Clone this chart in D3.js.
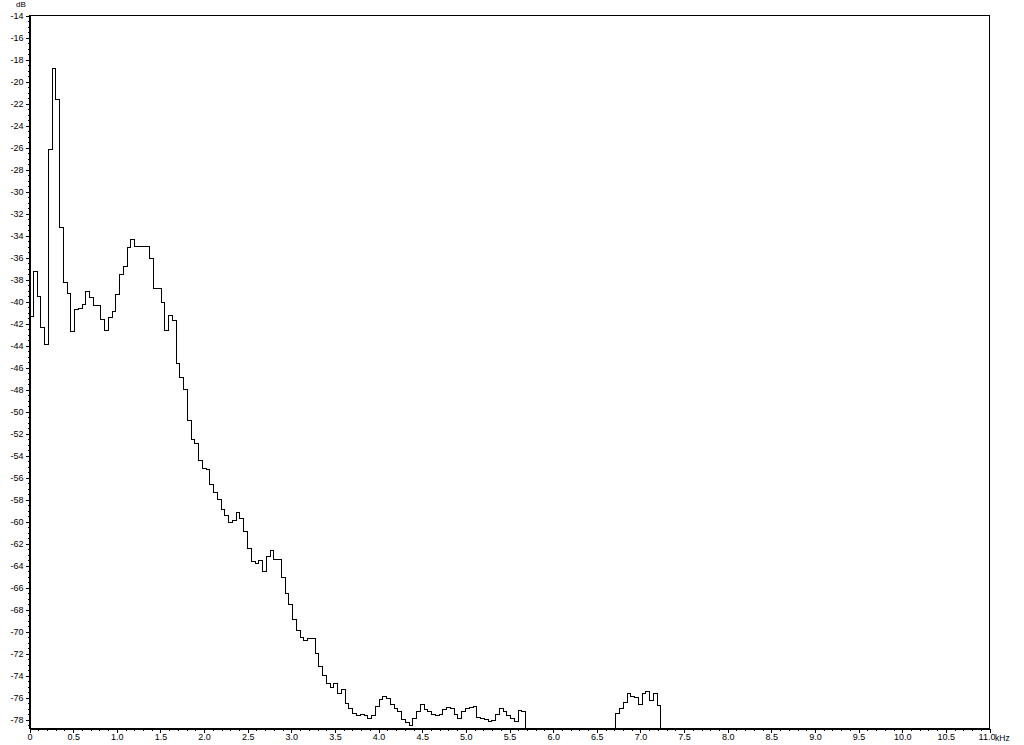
<!DOCTYPE html>
<html>
<head>
<meta charset="utf-8">
<script src="https://cdn.jsdelivr.net/npm/d3@7"></script>
<style>
  html, body { margin: 0; padding: 0; background: #fff; }
  svg { display: block; font-family: "Liberation Sans", Arial, sans-serif; }
  .axis text { font-size: 9px; fill: #000; }
  .axis path, .axis line { stroke: #000; }
</style>
</head>
<body>
<svg></svg>
<script>
// spectrum bins, 22050 Hz / 512 point FFT -> 43.07 Hz per bin, dB
const binWidth = 22.05 / 512;          // kHz
const firstStart = 0;                  // bin index of lowBand[0]
const lowBand = [
  -41.4, -37.3, -39.5, -42.4, -43.9, -26.2, -18.85, -21.6, -33.3, -38.3,
  -39.3, -42.75, -40.75, -40.65, -40.3, -39.1, -39.65, -40.4, -40.4, -41.65,
  -42.6, -41.45, -40.9, -39.4, -37.5, -36.8, -35.1, -34.4, -34.95, -34.95,
  -34.95, -34.95, -36.1, -38.85, -38.85, -40.1, -42.65, -41.3, -41.7, -45.6,
  -46.9, -47.95, -50.8, -52.5, -52.9, -54.4, -55.2, -55.3, -56.65, -57.35,
  -58.0, -58.9, -59.4, -60.1, -59.9, -59.2, -59.75, -60.9, -62.4, -63.65,
  -63.8, -63.5, -64.55, -63.15, -62.6, -63.4, -63.4, -65.1, -66.5, -67.5,
  -68.9, -69.9, -70.5, -70.8, -70.65, -70.65, -72.0, -73.2, -74.0, -74.75,
  -75.05, -74.75, -75.65, -75.3, -76.5, -77.0, -77.4, -77.6, -77.5, -77.6,
  -77.85, -77.6, -76.8, -76.2, -75.9, -76.05, -76.6, -76.95, -77.3, -78.0,
  -78.3, -78.5, -77.85, -77.3, -76.65, -77.1, -77.3, -77.5, -77.6, -77.5,
  -77.1, -76.9, -77.0, -77.5, -77.85, -77.3, -77.0, -76.9, -76.8, -77.8,
  -77.9, -78.0, -78.15, -78.1, -77.5, -77.0, -77.3, -77.6, -77.85, -78.2,
  -77.2, -77.3
];
const highStart = 156;                 // bin index of highBand[0]
const highBand = [
  -77.4, -77.0, -76.4, -75.6, -75.9, -76.0, -76.6, -75.65, -75.4, -76.3,
  -75.65, -76.7
];

const yTicks = d3.range(-14, -79, -2);
const xTicks = d3.range(0, 11.01, 0.5);

(function (d3) {
    const width = 1024;
    const height = 745;
    const left = 29, right = 989, top = 15, bottom = 728;

    const svg = d3.select('svg').attr('width', width).attr('height', height);

    const x = d3.scaleLinear().domain([0, 11]).range([left, right]);
    const y = d3.scaleLinear().domain([-78.8, -14]).range([bottom, top]);
    const floor = y.domain()[0] - 1;

    // ==================================================
    // frame + axes

    svg.append('rect')
        .attr('x', left + 0.5).attr('y', top + 0.5)
        .attr('width', right - left).attr('height', bottom - top)
        .attr('fill', 'none').attr('stroke', '#000')
        .attr('shape-rendering', 'crispEdges');

    // minor ticks first, majors on top
    svg.append('g').attr('class', 'axis')
        .attr('transform', `translate(${left + 0.5},0.5)`)
        .attr('shape-rendering', 'crispEdges')
        .call(d3.axisLeft(y).tickValues(d3.range(-14, -78.81, -0.5))
              .tickSize(2).tickSizeOuter(0).tickFormat(''));
    svg.append('g').attr('class', 'axis')
        .attr('transform', `translate(${left + 0.5},0.5)`)
        .attr('shape-rendering', 'crispEdges')
        .call(d3.axisLeft(y).tickValues(yTicks)
              .tickSize(4).tickSizeOuter(0).tickPadding(2)
              .tickFormat(d => d));

    svg.append('g').attr('class', 'axis')
        .attr('transform', `translate(0.5,${bottom + 0.5})`)
        .attr('shape-rendering', 'crispEdges')
        .call(d3.axisBottom(x).tickValues(d3.range(0, 11.001, 0.1))
              .tickSize(2).tickSizeOuter(0).tickFormat(''));
    const xa = svg.append('g').attr('class', 'axis')
        .attr('transform', `translate(0.5,${bottom + 0.5})`)
        .attr('shape-rendering', 'crispEdges')
        .call(d3.axisBottom(x).tickValues(xTicks)
              .tickSize(4).tickSizeOuter(0).tickPadding(1)
              .tickFormat(d => d === 0 ? '0' : d3.format('.1f')(d)));

    xa.selectAll('.domain').remove();
    svg.selectAll('.axis text').attr('fill', '#000');

    // last label sits tight against the unit
    xa.selectAll('.tick text').filter(d => d === 11).attr('dx', -3);

    svg.append('text')
        .attr('x', x(11) + 6).attr('y', bottom + 13)
        .attr('font-size', 8.5)
        .text('kHz');

    svg.append('text')
        .attr('x', 16).attr('y', 7)
        .attr('font-size', 8)
        .text('dB');

    // ==================================================
    // step spectrum

    function stepPoints(values, start) {
        const pts = values.map((v, i) => [(start + i) * binWidth, v]);
        pts.push([(start + values.length) * binWidth, floor]);
        return pts;
    }

    const pts = stepPoints(lowBand, firstStart);
    pts.push([highStart * binWidth, floor]);
    stepPoints(highBand, highStart).forEach(p => pts.push(p));

    svg.append('clipPath').attr('id', 'plot')
        .append('rect')
        .attr('x', left).attr('y', top)
        .attr('width', right - left + 1).attr('height', bottom - top + 1);

    const line = d3.line()
          .x(d => x(d[0]))
          .y(d => y(d[1]))
          .curve(d3.curveStepAfter);

    svg.append('path')
        .datum(pts)
        .attr('clip-path', 'url(#plot)')
        .attr('transform', 'translate(0.5,0.5)')
        .attr('fill', 'none')
        .attr('stroke', '#000')
        .attr('stroke-width', 1)
        .attr('shape-rendering', 'crispEdges')
        .attr('d', line);
})(d3);
</script>
</body>
</html>
